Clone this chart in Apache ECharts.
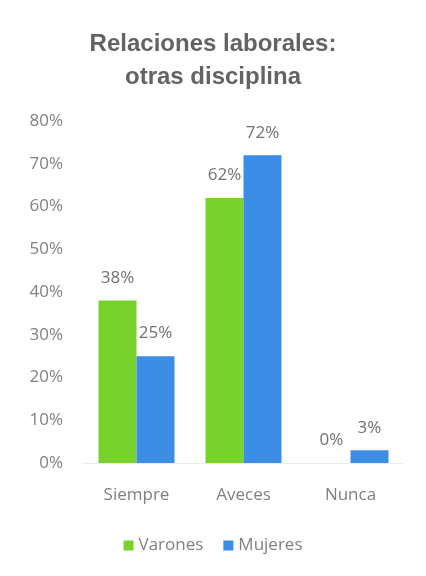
<!DOCTYPE html>
<html>
<head>
<meta charset="utf-8">
<script src="https://cdn.jsdelivr.net/npm/echarts@6/dist/echarts.min.js"></script>
<style>
  html, body { margin: 0; padding: 0; background: #fff; }
  #chart { width: 426px; height: 576px; }
</style>
</head>
<body>
<div id="chart"></div>
<script>
const categories = ['Siempre', 'Aveces', 'Nunca'];
const varones = [38, 62, 0];
const mujeres = [25, 72, 3];
const yTicks = [0, 10, 20, 30, 40, 50, 60, 70, 80];

const TEXT = '#808080';
const chart = echarts.init(document.getElementById('chart'));

const labelStyle = {
  show: true,
  position: 'top',
  formatter: '{c}%',
  color: '#707070',
  fontSize: 17,
  fontFamily: 'Open Sans',
  distance: 14
};

chart.setOption({
  title: {
    text: 'Relaciones laborales:\notras disciplina',
    left: 'center',
    top: 23,
    textStyle: {
      fontFamily: 'Liberation Sans',
      fontSize: 24,
      fontWeight: 'bold',
      color: '#636363',
      lineHeight: 33
    }
  },
  grid: { left: 83, right: 22, top: 121, bottom: 113 },
  legend: {
    bottom: 17,
    left: 'center',
    itemWidth: 10,
    itemHeight: 10,
    itemGap: 20,
    icon: 'rect',
    textStyle: { color: TEXT, fontSize: 17, fontFamily: 'Open Sans' },
    data: ['Varones', 'Mujeres']
  },
  xAxis: {
    type: 'category',
    data: categories,
    axisLine: { lineStyle: { color: '#ececec' } },
    axisTick: { show: false },
    axisLabel: { color: TEXT, fontSize: 17, fontFamily: 'Open Sans', margin: 24 }
  },
  yAxis: {
    type: 'value',
    min: yTicks[0],
    max: yTicks[yTicks.length - 1],
    interval: 10,
    splitLine: { show: false },
    axisLine: { show: false },
    axisTick: { show: false },
    axisLabel: { color: TEXT, fontSize: 17, fontFamily: 'Open Sans', formatter: '{value}%', margin: 20 }
  },
  series: [
    {
      name: 'Varones',
      type: 'bar',
      data: varones,
      barGap: '0%',
      barCategoryGap: '29%',
      itemStyle: { color: '#79d12b' },
      label: labelStyle
    },
    {
      name: 'Mujeres',
      type: 'bar',
      data: mujeres,
      itemStyle: { color: '#3c8de6' },
      label: labelStyle
    }
  ]
});
</script>
</body>
</html>
